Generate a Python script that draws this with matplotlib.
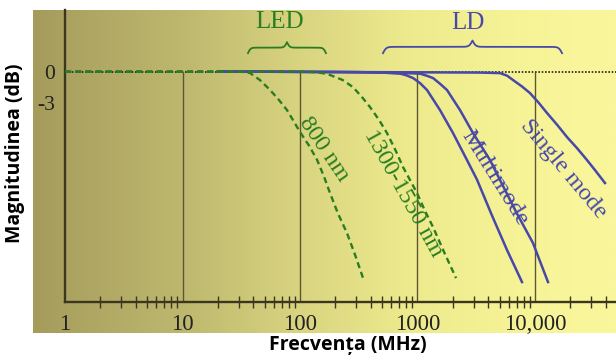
import numpy as np
import matplotlib.pyplot as plt
from matplotlib.colors import LinearSegmentedColormap
from matplotlib.ticker import LogLocator, NullFormatter

# LED curves (green dashed): frequency in MHz, magnitude in dB
f_800 = [1, 25, 32, 37.5, 45.6, 55.6, 65, 77.5, 88, 100, 120, 140, 160, 180,
         210, 251, 295, 344]
db_800 = [0, 0, -0.03, -0.14, -0.81, -1.76, -2.6, -3.67, -4.7, -5.76, -7.1,
          -8.43, -10.0, -11.57, -13.5, -15.38, -17.5, -19.67]
f_1300 = [1, 100, 130, 155, 180, 230, 282, 335, 394, 470, 550, 650, 753, 870,
          990, 1150, 1355, 1700, 2128]
db_1300 = [0, 0, -0.05, -0.15, -0.33, -0.8, -1.48, -2.4, -3.38, -4.6, -5.86,
           -7.5, -9.10, -10.4, -11.57, -13.2, -14.81, -17.3, -19.67]

# LD curves (blue solid)
f_mm1 = [20, 200, 500, 710, 800, 916, 1050, 1205, 1554, 2005, 2637, 3210,
         4300, 5780, 7750]
db_mm1 = [0, -0.05, -0.1, -0.2, -0.35, -0.62, -1.1, -1.76, -3.67, -5.86,
          -8.43, -10.3, -13.7, -17.0, -20.05]
f_mm2 = [20, 300, 800, 1050, 1200, 1355, 1550, 1783, 2300, 2967, 4140, 5035,
         7000, 9610, 12900]
db_mm2 = [0, -0.05, -0.15, -0.2, -0.4, -0.62, -1.15, -1.76, -3.67, -5.86,
          -8.43, -10.33, -13.5, -16.33, -20.05]
f_sm = [20, 3404, 5035, 5800, 6500, 7700, 9060, 10800, 12650, 15500, 18720,
        22800, 27700, 33000, 39400]
db_sm = [0, -0.1, -0.15, -0.4, -0.81, -1.4, -2.05, -3.0, -3.95, -5.1, -6.24,
         -7.3, -8.43, -9.5, -10.62]

x_ticks = [1, 10, 100, 1000, 10000]
x_labels = ['1', '10', '100', '1000', '10,000']
y_ticks = [0, -3]
y_labels = ['0', '-3']

GREEN = '#2a7d22'
BLUE = '#4848aa'
DARK = '#3b3620'
SERIF = 'Liberation Serif'

W, H = 616, 356
fig = plt.figure(figsize=(W / 100, H / 100), dpi=100)

# gradient background
bg = fig.add_axes([33 / W, 1 - 333 / H, (616 - 33) / W, (333 - 10) / H])
cmap = LinearSegmentedColormap.from_list('bg', [
    (0.0, '#a59c5c'), (0.25, '#bdb76e'), (0.45, '#d8d37f'),
    (0.65, '#eeeb8e'), (0.85, '#f7f498'), (1.0, '#f9f69c')])
bg.imshow(np.linspace(0, 1, 256)[None, :], aspect='auto', cmap=cmap,
          extent=[0, 1, 0, 1])
bg.axis('off')

ax = fig.add_axes([65 / W, 1 - 302 / H, (616 - 65) / W, (302 - 10) / H])
ax.patch.set_alpha(0)
ax.set_xscale('log')
ax.set_xlim(1, 10 ** ((616 - 65) / 117.5))
ax.set_ylim(-21.95, 5.86)

for s in ['top', 'right']:
    ax.spines[s].set_visible(False)
for s in ['left', 'bottom']:
    ax.spines[s].set_color(DARK)
    ax.spines[s].set_linewidth(1.7)

ax.set_xticks(x_ticks, x_labels, fontfamily=SERIF, fontsize=16.5)
ax.xaxis.set_minor_locator(LogLocator(base=10, subs=np.arange(2, 10)))
ax.xaxis.set_minor_formatter(NullFormatter())
ax.tick_params(axis='x', which='major', length=0, pad=9, colors='#222222')
ax.tick_params(axis='x', which='minor', direction='inout', length=8,
               width=1, color=DARK)
ax.set_yticks(y_ticks, y_labels, fontfamily=SERIF, fontsize=15.5)
ax.tick_params(axis='y', length=0, pad=7, colors='#222222')

# decade lines and 0 dB reference
ax.vlines(x_ticks[1:], -21.95, 0, color='#5c5632', lw=1, zorder=1)
ax.axhline(0, color='#222222', ls=(0, (1, 1)), lw=1.2, zorder=1)

dash = (0, (2.6, 1.7))
ax.plot(f_800, db_800, color=GREEN, lw=1.7, ls=dash, zorder=3)
ax.plot(f_1300, db_1300, color=GREEN, lw=1.7, ls=dash, zorder=3)
ax.plot(f_mm1, db_mm1, color=BLUE, lw=1.8, zorder=2)
ax.plot(f_mm2, db_mm2, color=BLUE, lw=1.8, zorder=2)
ax.plot(f_sm, db_sm, color=BLUE, lw=1.8, zorder=2)


def brace(u0, u1, y, h, beta, color):
    # horizontal curly brace, tip up, drawn in log10(f) space
    n = 200
    t = np.linspace(0, 0.5, n)
    half = 1 / (1 + np.exp(-beta * t)) + 1 / (1 + np.exp(-beta * (t - 0.5)))
    ys = np.concatenate((half, half[-2::-1])) - 0.5
    us = np.linspace(u0, u1, len(ys))
    ax.plot(10 ** us, y + h * ys, color=color, lw=1.3, zorder=3)


brace(1.557, 2.221, 1.75, 1.05, 60, GREEN)
brace(2.706, 4.23, 1.75, 1.2, 110, BLUE)

ax.text(67.6, 4.7, 'LED', color=GREEN, fontfamily=SERIF, fontsize=18,
        ha='center', va='center')
ax.text(2690, 4.6, 'LD', color=BLUE, fontfamily=SERIF, fontsize=18,
        ha='center', va='center')

lab = dict(fontfamily=SERIF, fontsize=17.5, ha='center', va='center',
           rotation_mode='anchor')
ax.text(160, -7.4, '800 nm', color=GREEN, rotation=-56, **lab)
ax.text(760, -11.6, '1300-1550 nm', color=GREEN, rotation=-61, **lab)
ax.text(4570, -10.1, 'Multimode', color=BLUE, rotation=-58, **lab)
ax.text(17300, -9.3, 'Single mode', color=BLUE, rotation=-50, **lab)

fig.text(348 / W, 1 - 345 / H, 'Frecvența (MHz)', fontfamily='Open Sans',
         fontweight='bold', fontsize=14, ha='center', va='center')
fig.text(15 / W, 1 - 153 / H, 'Magnitudinea (dB)', fontfamily='Open Sans',
         fontweight='bold', fontsize=14, ha='center', va='center', rotation=90)

fig.savefig('out.png', dpi=100)
